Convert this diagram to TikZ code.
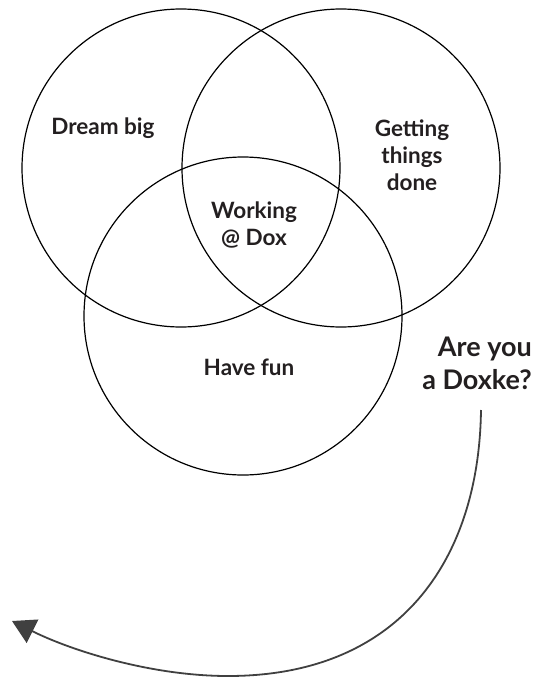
\documentclass[tikz,border=0pt]{standalone}
\usepackage{fontspec}
\setmainfont{Lato}[BoldFont=* Bold]
\usetikzlibrary{arrows.meta}
\definecolor{ink}{HTML}{231F20}
\definecolor{arrowgray}{HTML}{404040}
\tikzset{
  venn/.style={circle, draw=black, line width=1.2pt, minimum size=318pt, inner sep=0pt},
  lbl/.style={font=\bfseries\fontsize{22.5}{27}\selectfont, text=ink, align=center, inner sep=0pt},
  big/.style={font=\bfseries\fontsize{27}{33}\selectfont, text=ink, align=right, inner sep=0pt},
  curvearrow/.style={draw=arrowgray, line width=1.8pt, -{Triangle[length=23pt,width=26pt]}}
}
\begin{document}
\begin{tikzpicture}[x=1pt,y=-1pt]
\useasboundingbox (0,0) rectangle (549,677);
\node[venn] (dream) at (181,168) {};
\node[venn] (done) at (341,168) {};
\node[venn] (fun) at (243,316) {};
\node[lbl] (tdream) at (103,128) {Dream big};
\node[lbl] (tdone) at (412,155) {Getting\\things\\done};
\node[lbl] (twork) at (254,225) {Working\\@ Dox};
\node[lbl] (tfun) at (249,367) {Have fun};
\node[big, anchor=east] (tq) at (532,363) {Are you\\a Doxke?};
\coordinate (s) at (481,410);
\coordinate (m) at (228,676);
\coordinate (e) at (12,621);
\draw[curvearrow] (s) .. controls (479,560) and (400,676) .. (m)
  .. controls (150,676) and (70,650) .. (e);
\end{tikzpicture}
\end{document}
